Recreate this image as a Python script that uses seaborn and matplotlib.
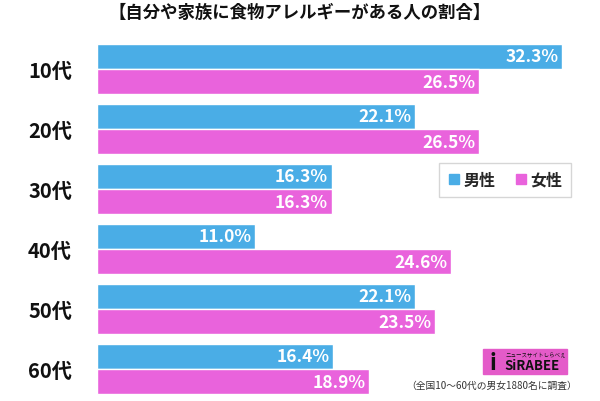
import pandas as pd
import matplotlib
matplotlib.use('Agg')
import matplotlib.pyplot as plt
import seaborn as sns
from matplotlib.patches import Rectangle

# chart values
ages = ['10代', '20代', '30代', '40代', '50代', '60代']
male = [32.3, 22.1, 16.3, 11.0, 22.1, 16.4]
female = [26.5, 26.5, 16.3, 24.6, 23.5, 18.9]
series = ['男性', '女性']
colors = ['#4aade6', '#e963dc']

sns.set_theme(style='white')
plt.rcParams['font.family'] = ['Noto Sans CJK JP', 'DejaVu Sans']

df = pd.DataFrame({
    'age': ages * 2,
    'value': male + female,
    'sex': [series[0]] * len(ages) + [series[1]] * len(ages),
})

fig = plt.figure(figsize=(6.0, 4.02), dpi=100)
ax = fig.add_axes([97 / 600, 1 - 400 / 402, 1 - 97 / 600, 360 / 402])

sns.barplot(data=df, y='age', x='value', hue='sex', orient='h',
            palette=colors, width=0.84, saturation=1, ax=ax, legend=False)

ax.set_xlim(0, 503 / 14.4)
ax.set_ylim(5.5, -0.5)
for s in ax.spines.values():
    s.set_visible(False)
ax.set_xticks([])
ax.set_xlabel('')
ax.set_ylabel('')
ax.tick_params(axis='y', length=0, pad=18)
ax.set_yticks(range(len(ages)))
ax.set_yticklabels(ages, fontsize=14.5, fontweight='bold', color='#111111')

for cont in ax.containers:
    for bar in cont:
        w = bar.get_width()
        y = bar.get_y() + bar.get_height() / 2
        ax.text(w - 0.25, y, f'{w:.1f}%', ha='right', va='center',
                color='white', fontsize=12.5, fontweight='bold')

# legend
handles = [plt.Line2D([], [], marker='s', ls='', color=c, markersize=7) for c in colors]
fig.legend(handles, series, loc='center', bbox_to_anchor=(505 / 600, 1 - 181 / 402),
           ncol=2, frameon=True, fancybox=False, edgecolor='#cccccc', handletextpad=0.2,
           handlelength=0.8, columnspacing=1.2, borderpad=0.55,
           prop={'family': ['Noto Sans CJK JP'], 'weight': 'bold', 'size': 11.5})

fig.text(0.5, 1 - 13 / 402, '【自分や家族に食物アレルギーがある人の割合】', ha='center', va='center',
         fontsize=12.5, fontweight='bold', color='#111111')

# logo
fig.patches.append(Rectangle((483 / 600, 1 - 375 / 402), 84 / 600, 25 / 402,
                             transform=fig.transFigure, color='#e45bc9', zorder=5))
fig.text(532 / 600, 1 - 366 / 402, 'SiRABEE', ha='center', va='center', fontsize=9.5,
         fontweight='bold', color='#111111', fontstyle='italic', zorder=6)
fig.text(493 / 600, 1 - 363 / 402, 'i', ha='center', va='center', fontsize=16,
         fontweight='bold', color='#111111', zorder=6)
fig.text(536 / 600, 1 - 356 / 402, 'ニュースサイトしらべぇ', ha='center', va='center', fontsize=4,
         color='#111111', zorder=6)

fig.text(492 / 600, 1 - 386 / 402, '（全国10〜60代の男女1880名に調査）', ha='center', va='center',
         fontsize=7, color='#333333')

fig.savefig('out.png', dpi=100, facecolor='white')
